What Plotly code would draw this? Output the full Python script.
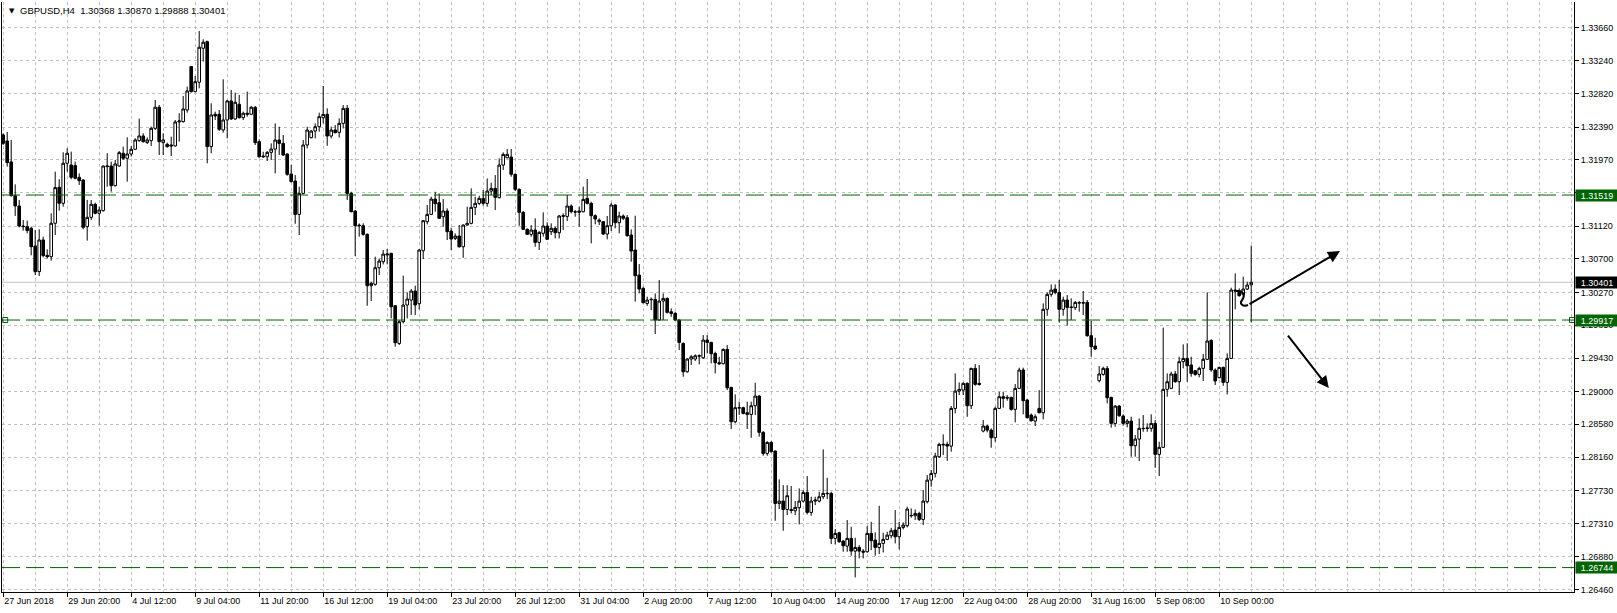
import plotly.graph_objects as go

# ---------------- data (GBPUSD H4) ----------------
open_ = [1.32289,1.32212,1.31943,1.31511,1.31379,1.31122,1.31114,1.31092,1.30866,1.30537,
1.30943,1.30746,1.30729,1.31157,1.31618,1.31413,1.31926,1.31904,1.31896,1.31746,
1.31712,1.31114,1.31233,1.31400,1.31285,1.31319,1.31883,1.31891,1.31639,1.31891,
1.32054,1.31990,1.32045,1.32105,1.32216,1.32276,1.32191,1.32216,1.32374,1.32644,
1.32191,1.32169,1.32161,1.32148,1.32455,1.32460,1.32609,1.33165,1.32844,1.32964,
1.33400,1.33485,1.32139,1.32554,1.32554,1.32353,1.32481,1.32725,1.32494,1.32682,
1.32511,1.32567,1.32554,1.32643,1.32203,1.32019,1.32010,1.32066,1.32108,1.32224,
1.32181,1.32044,1.31788,1.31698,1.31271,1.31540,1.32160,1.32254,1.32339,1.32395,
1.32510,1.32553,1.32275,1.32352,1.32322,1.32437,1.32630,1.31540,1.31314,1.31134,
1.31126,1.31015,1.30357,1.30374,1.30587,1.30664,1.30750,1.30771,1.30100,1.29617,
1.29895,1.30109,1.30173,1.30288,1.30126,1.30805,1.31177,1.31271,1.31467,1.31420,
1.31241,1.31314,1.31057,1.30963,1.30993,1.30856,1.31134,1.31156,1.31361,1.31412,
1.31476,1.31412,1.31570,1.31604,1.31485,1.31903,1.31997,1.32006,1.31784,1.31592,
1.31297,1.31079,1.31015,1.31070,1.30912,1.31028,1.31122,1.31049,1.31092,1.31036,
1.31245,1.31245,1.31378,1.31305,1.31297,1.31305,1.31476,1.31412,1.31254,1.31177,
1.31177,1.31019,1.31126,1.31391,1.31164,1.31250,1.31228,1.31006,1.30814,1.30493,
1.30322,1.30130,1.30177,1.30181,1.29917,1.30160,1.30194,1.30023,1.30002,1.29917,
1.29617,1.29254,1.29417,1.29417,1.29459,1.29433,1.29660,1.29630,1.29489,1.29370,
1.29357,1.29541,1.29053,1.28613,1.28788,1.28793,1.28729,1.28707,1.28818,1.28942,
1.28477,1.28207,1.28348,1.28237,1.27566,1.27596,1.27489,1.27489,1.27472,1.27511,
1.27596,1.27707,1.27451,1.27596,1.27596,1.27652,1.27690,1.27695,1.27118,1.27190,
1.27084,1.27019,1.27118,1.26955,1.27002,1.26955,1.26947,1.27182,1.27096,1.27002,
1.27054,1.27105,1.27152,1.27225,1.27139,1.27259,1.27280,1.27408,1.27408,1.27438,
1.27361,1.27588,1.27865,1.27951,1.28165,1.28314,1.28323,1.28301,1.28784,1.29006,
1.29019,1.29105,1.28818,1.29297,1.29105,1.28494,1.28558,1.28506,1.28408,1.28784,
1.28934,1.28925,1.28925,1.28772,1.29041,1.29276,1.28891,1.28699,1.28622,1.28784,
1.28729,1.30054,1.30246,1.30314,1.30271,1.30054,1.30173,1.30083,1.30075,1.30139,
1.30139,1.30143,1.29716,1.29584,1.29139,1.29220,1.29297,1.28925,1.28592,1.28814,
1.28686,1.28592,1.28622,1.28306,1.28391,1.28524,1.28528,1.28528,1.28592,1.28195,
1.28285,1.29028,1.29041,1.29225,1.29126,1.29383,1.29425,1.29340,1.29267,1.29220,
1.29297,1.29413,1.29656,1.29276,1.29178,1.29310,1.29118,1.29425,1.30301,1.30289,
1.30246,1.30314,1.30368]

high = [1.32310,1.32327,1.32225,1.31656,1.31456,1.31199,1.31191,1.31114,1.31071,1.31080,
1.30986,1.30823,1.31285,1.31819,1.31721,1.32067,1.32118,1.32075,1.31947,1.31797,
1.31721,1.31456,1.31456,1.31421,1.31370,1.31896,1.32054,1.31947,1.31968,1.32084,
1.32139,1.32259,1.32148,1.32246,1.32498,1.32310,1.32259,1.32396,1.32738,1.32673,
1.32310,1.32191,1.32267,1.32481,1.32567,1.32789,1.32908,1.33173,1.33045,1.33622,
1.33515,1.33498,1.32695,1.32588,1.32609,1.33002,1.32738,1.32866,1.32832,1.32802,
1.32588,1.32844,1.32661,1.32660,1.32232,1.32074,1.32083,1.32181,1.32437,1.32395,
1.32288,1.32053,1.31903,1.31775,1.31626,1.32224,1.32395,1.32352,1.32437,1.32574,
1.32916,1.32630,1.32395,1.32416,1.32502,1.32672,1.32672,1.31561,1.31326,1.31156,
1.31156,1.31027,1.30408,1.30728,1.30707,1.30814,1.30827,1.30780,1.30109,1.29916,
1.30485,1.30271,1.30314,1.30357,1.30827,1.31198,1.31391,1.31497,1.31561,1.31540,
1.31467,1.31348,1.31100,1.31027,1.31134,1.31143,1.31369,1.31604,1.31497,1.31510,
1.31583,1.31732,1.31677,1.31775,1.31989,1.32066,1.32109,1.32109,1.31797,1.31604,
1.31314,1.31092,1.31134,1.31220,1.31057,1.31297,1.31169,1.31156,1.31113,1.31263,
1.31284,1.31519,1.31399,1.31327,1.31369,1.31626,1.31724,1.31433,1.31271,1.31220,
1.31186,1.31250,1.31421,1.31399,1.31305,1.31271,1.31263,1.31079,1.31254,1.30634,
1.30344,1.30216,1.30207,1.30258,1.30429,1.30258,1.30207,1.30066,1.30023,1.29925,
1.29630,1.29425,1.29468,1.29476,1.29476,1.29724,1.29724,1.29639,1.29511,1.29446,
1.29553,1.29596,1.29062,1.28964,1.28870,1.28806,1.28870,1.28870,1.29113,1.28955,
1.28494,1.28365,1.28365,1.28246,1.27874,1.27801,1.27801,1.27789,1.27596,1.27759,
1.27737,1.27917,1.27652,1.27652,1.27716,1.28259,1.27895,1.27716,1.27237,1.27203,
1.27096,1.27353,1.27267,1.27126,1.27032,1.26981,1.27276,1.27331,1.27195,1.27536,
1.27190,1.27203,1.27254,1.27481,1.27331,1.27323,1.27524,1.27502,1.27489,1.27460,
1.27737,1.27930,1.27994,1.28216,1.28344,1.28451,1.28357,1.28814,1.29233,1.29117,
1.29117,1.29117,1.29305,1.29352,1.29340,1.28635,1.28571,1.28528,1.28806,1.28998,
1.28998,1.28955,1.28934,1.29096,1.29306,1.29306,1.28904,1.28720,1.28708,1.29019,
1.30130,1.30271,1.30374,1.30374,1.30430,1.30216,1.30237,1.30195,1.30160,1.30160,
1.30289,1.30173,1.29904,1.29690,1.29327,1.29319,1.29327,1.28934,1.28827,1.28827,
1.28708,1.28648,1.28678,1.28443,1.28656,1.28699,1.28592,1.28708,1.28635,1.28357,
1.29819,1.29233,1.29254,1.29263,1.29447,1.29605,1.29618,1.29447,1.29276,1.29319,
1.29481,1.30271,1.29669,1.29297,1.29319,1.29319,1.29490,1.30331,1.30515,1.30323,
1.30472,1.30408,1.30870]

low = [1.32161,1.31883,1.31498,1.31251,1.31105,1.31063,1.31028,1.30746,1.30494,1.30481,
1.30721,1.30704,1.30678,1.31007,1.31319,1.31370,1.31819,1.31721,1.31721,1.31648,
1.31080,1.30934,1.31199,1.31272,1.31127,1.31306,1.31627,1.31562,1.31627,1.31883,
1.31968,1.31691,1.32011,1.32097,1.32203,1.32191,1.32173,1.32148,1.32353,1.32032,
1.32032,1.32126,1.32020,1.32139,1.32203,1.32447,1.32575,1.32832,1.32836,1.32887,
1.33229,1.31926,1.32054,1.32481,1.32340,1.32319,1.32246,1.32481,1.32481,1.32498,
1.32481,1.32524,1.32545,1.32160,1.31997,1.31997,1.31955,1.31967,1.31797,1.32032,
1.32019,1.31767,1.31681,1.31151,1.31006,1.31527,1.32117,1.32245,1.32245,1.32331,
1.32437,1.32151,1.32245,1.32309,1.32254,1.32373,1.31455,1.31297,1.30737,1.30985,
1.30997,1.30100,1.30160,1.30357,1.30493,1.30630,1.30630,1.29938,1.29575,1.29596,
1.29874,1.29938,1.29980,1.29980,1.30053,1.30698,1.31143,1.31262,1.31305,1.31211,
1.31113,1.30942,1.30814,1.30942,1.30844,1.30715,1.31126,1.31143,1.31262,1.31391,
1.31382,1.31369,1.31519,1.31326,1.31476,1.31839,1.31989,1.31754,1.31570,1.31126,
1.31070,1.31006,1.30985,1.30857,1.30814,1.30985,1.30942,1.31006,1.30963,1.30963,
1.31070,1.31186,1.31284,1.31241,1.31113,1.31297,1.31399,1.30899,1.31143,1.31134,
1.31006,1.30951,1.31057,1.31092,1.31028,1.31198,1.30985,1.30664,1.30152,1.30258,
1.30130,1.30100,1.30045,1.29737,1.29912,1.29917,1.30002,1.29959,1.29904,1.29532,
1.29190,1.29241,1.29340,1.29391,1.29348,1.29417,1.29489,1.29361,1.29233,1.29340,
1.29348,1.29019,1.28519,1.28592,1.28699,1.28707,1.28519,1.28408,1.28699,1.28421,
1.28177,1.28177,1.28220,1.27344,1.27494,1.27216,1.27417,1.27438,1.27417,1.27297,
1.27579,1.27425,1.27408,1.27545,1.27579,1.27622,1.27622,1.27045,1.27041,1.27062,
1.26947,1.26947,1.26896,1.26618,1.26861,1.26861,1.26934,1.26968,1.26896,1.26917,
1.26938,1.27096,1.27118,1.27054,1.26977,1.27233,1.27259,1.27383,1.27353,1.27340,
1.27289,1.27566,1.27780,1.27900,1.28152,1.28186,1.28113,1.28229,1.28720,1.28955,
1.28955,1.28677,1.28776,1.29075,1.29075,1.28477,1.28477,1.28280,1.28357,1.28776,
1.28793,1.28883,1.28755,1.28605,1.29032,1.28708,1.28656,1.28614,1.28558,1.28720,
1.28643,1.29972,1.30216,1.30246,1.29887,1.29972,1.29844,1.29917,1.30045,1.30024,
1.29981,1.29703,1.29447,1.29532,1.29118,1.29203,1.28849,1.28537,1.28549,1.28678,
1.28562,1.28541,1.28165,1.28165,1.28109,1.28485,1.28485,1.28485,1.28024,1.27917,
1.28280,1.28934,1.29032,1.29113,1.28955,1.29297,1.29126,1.29190,1.29203,1.29182,
1.29135,1.29404,1.29254,1.29084,1.29169,1.29075,1.28964,1.29417,1.30054,1.30216,
1.30216,1.30301,1.29888]

close = [1.32182,1.31934,1.31511,1.31379,1.31122,1.31114,1.31063,1.30857,1.30537,1.30943,
1.30742,1.30729,1.31157,1.31614,1.31413,1.31926,1.32054,1.31746,1.31733,1.31703,
1.31105,1.31233,1.31400,1.31285,1.31327,1.31891,1.31891,1.31639,1.31917,1.32062,
1.31990,1.32045,1.32105,1.32225,1.32276,1.32203,1.32225,1.32374,1.32644,1.32203,
1.32225,1.32139,1.32148,1.32455,1.32468,1.32622,1.32853,1.32844,1.32972,1.33413,
1.33477,1.32139,1.32545,1.32532,1.32361,1.32481,1.32725,1.32494,1.32708,1.32511,
1.32567,1.32554,1.32644,1.32190,1.32010,1.32010,1.32066,1.32108,1.32224,1.32181,
1.32032,1.31784,1.31690,1.31271,1.31540,1.32160,1.32352,1.32339,1.32395,1.32523,
1.32553,1.32275,1.32352,1.32318,1.32437,1.32630,1.31540,1.31305,1.31126,1.31126,
1.31015,1.30357,1.30386,1.30587,1.30673,1.30762,1.30762,1.30087,1.29626,1.29895,
1.30109,1.30186,1.30288,1.30109,1.30814,1.31190,1.31271,1.31467,1.31408,1.31220,
1.31314,1.31049,1.30955,1.30993,1.30856,1.31134,1.31156,1.31361,1.31412,1.31476,
1.31412,1.31570,1.31604,1.31489,1.31903,1.32040,1.32040,1.31784,1.31592,1.31297,
1.31079,1.31015,1.31070,1.30912,1.31040,1.31122,1.30951,1.31092,1.31036,1.31250,
1.31254,1.31378,1.31305,1.31301,1.31314,1.31463,1.31412,1.31254,1.31211,1.31198,
1.31019,1.31126,1.31391,1.31164,1.31250,1.31220,1.30998,1.30801,1.30485,1.30314,
1.30139,1.30173,1.30181,1.29917,1.30160,1.30194,1.30015,1.30002,1.29917,1.29630,
1.29254,1.29417,1.29446,1.29459,1.29455,1.29660,1.29630,1.29485,1.29370,1.29357,
1.29541,1.29049,1.28613,1.28793,1.28793,1.28720,1.28707,1.28818,1.28942,1.28477,
1.28207,1.28348,1.28229,1.27566,1.27596,1.27489,1.27665,1.27477,1.27515,1.27596,
1.27707,1.27451,1.27596,1.27609,1.27652,1.27695,1.27695,1.27118,1.27182,1.27075,
1.27024,1.27118,1.26955,1.27002,1.26955,1.26942,1.27182,1.27088,1.27002,1.27054,
1.27105,1.27160,1.27216,1.27139,1.27259,1.27289,1.27494,1.27412,1.27438,1.27361,
1.27596,1.27865,1.27951,1.28173,1.28323,1.28323,1.28301,1.28784,1.29006,1.29028,
1.29105,1.28818,1.29297,1.29092,1.29092,1.28558,1.28506,1.28408,1.28784,1.28934,
1.28913,1.28917,1.28772,1.29041,1.29276,1.28883,1.28665,1.28626,1.28678,1.28729,
1.30054,1.30246,1.30301,1.30271,1.30054,1.30173,1.30079,1.30079,1.30143,1.30135,
1.30135,1.29716,1.29575,1.29545,1.29225,1.29297,1.28921,1.28592,1.28814,1.28690,
1.28592,1.28622,1.28306,1.28391,1.28528,1.28528,1.28532,1.28592,1.28195,1.28285,
1.29028,1.29126,1.29225,1.29126,1.29383,1.29425,1.29331,1.29233,1.29220,1.29297,
1.29413,1.29648,1.29276,1.29135,1.29310,1.29118,1.29425,1.30301,1.30289,1.30229,
1.30314,1.30365,1.30401]

tick_idx = [0, 16, 32, 48, 64, 80, 96, 112, 128, 144, 160, 176, 192, 208, 224, 240, 256, 272, 288, 304]
tick_text = ["27 Jun 2018", "29 Jun 20:00", "4 Jul 12:00", "9 Jul 04:00", "11 Jul 20:00",
             "16 Jul 12:00", "19 Jul 04:00", "23 Jul 20:00", "26 Jul 12:00", "31 Jul 04:00",
             "2 Aug 20:00", "7 Aug 12:00", "10 Aug 04:00", "14 Aug 20:00", "17 Aug 12:00",
             "22 Aug 04:00", "28 Aug 20:00", "31 Aug 16:00", "5 Sep 08:00", "10 Sep 00:00"]
price_ticks = [1.33660, 1.33240, 1.32820, 1.32390, 1.31970, 1.31550, 1.31120, 1.30700,
               1.30270, 1.29850, 1.29430, 1.29000, 1.28580, 1.28160, 1.27730, 1.27310,
               1.26880, 1.26460]
levels = [1.31519, 1.29917, 1.26744]
bid = 1.30401
symbol = "GBPUSD,H4"

# ---------------- figure ----------------
GREEN = "#006400"
GRID = "#c0c0c0"
FONT = "Liberation Sans"
x = list(range(len(open_)))
x_range = [-0.3, 392.7]
y_range = [1.26431, 1.33993]

fig = go.Figure()
fig.add_trace(go.Candlestick(
    x=x, open=open_, high=high, low=low, close=close,
    increasing=dict(line=dict(color="black", width=1), fillcolor="white"),
    decreasing=dict(line=dict(color="black", width=1), fillcolor="black"),
    whiskerwidth=0, hoverinfo="skip", showlegend=False))

# level lines
shapes = []
shapes.append(dict(type="line", xref="paper", x0=0, x1=1, yref="y", y0=bid, y1=bid,
                   line=dict(color=GRID, width=1), layer="below"))
for lv in levels:
    shapes.append(dict(type="line", xref="paper", x0=0, x1=1, yref="y", y0=lv, y1=lv,
                       line=dict(color=GREEN, width=1, dash="18px,6px"), layer="above"))

# hand-drawn squiggle before the upper arrow
shapes.append(dict(type="path", xref="x", yref="y",
                   path=("M 308.2,1.30288 C 309.95,1.30301 310.7,1.30237 309.7,1.30173 "
                         "C 308.95,1.30122 309.95,1.30083 311.2,1.30109"),
                   line=dict(color="black", width=2)))

# end-point squares of the 1.29917 trend line
fig.add_trace(go.Scatter(x=[x_range[0] + 0.8, x_range[1] - 0.5], y=[levels[1], levels[1]],
                         mode="markers", marker=dict(symbol="square-open", size=5,
                         color=GREEN, line=dict(width=1, color=GREEN)),
                         hoverinfo="skip", showlegend=False, cliponaxis=False))

annotations = []
# price boxes on the right axis
for val, bg in [(levels[0], GREEN), (bid, "black"), (levels[1], GREEN), (levels[2], GREEN)]:
    annotations.append(dict(xref="paper", x=1, xanchor="left", xshift=1,
                            yref="y", y=val, yanchor="middle",
                            text=f"{val:.5f}", showarrow=False,
                            font=dict(family=FONT, size=9, color="white"),
                            bgcolor=bg, width=42, height=11, borderpad=0, align="center"))

# title line
annotations.append(dict(xref="paper", yref="paper", x=5 / 1572, y=1 - 9 / 590,
                        xanchor="left", yanchor="middle", text="▼", showarrow=False,
                        font=dict(family="DejaVu Sans", size=7, color="black")))
annotations.append(dict(xref="paper", yref="paper", x=16 / 1572, y=1 - 9 / 590,
                        xanchor="left", yanchor="middle",
                        text=f"{symbol}\u00a0\u00a0{open_[-1]:.5f} {high[-1]:.5f} {low[-1]:.5f} {close[-1]:.5f}",
                        showarrow=False, font=dict(family=FONT, size=9.5, color="black")))

# arrows
annotations.append(dict(x=334.2, y=1.30801, ax=311.2, ay=1.30109, xref="x", yref="y",
                        axref="x", ayref="y", text="", showarrow=True, arrowhead=2,
                        arrowsize=1.2, arrowwidth=2, arrowcolor="black"))
annotations.append(dict(x=331.4, y=1.29045, ax=320.9, ay=1.29737, xref="x", yref="y",
                        axref="x", ayref="y", text="", showarrow=True, arrowhead=2,
                        arrowsize=1.2, arrowwidth=2, arrowcolor="black"))

fig.update_layout(
    width=1617, height=613,
    margin=dict(l=2, r=43, t=2, b=21, autoexpand=False),
    paper_bgcolor="white", plot_bgcolor="white",
    font=dict(family=FONT, size=9, color="black"),
    showlegend=False, shapes=shapes, annotations=annotations,
    hovermode=False, boxgap=0.35, boxgroupgap=0,
)
fig.update_xaxes(
    range=x_range, rangeslider_visible=False,
    tickmode="array", tickvals=tick_idx, ticktext=tick_text,
    ticks="outside", ticklen=4, tickcolor="black", tickwidth=1,
    ticklabelposition="outside right",
    showgrid=True, gridcolor=GRID, griddash="3px,3px", gridwidth=1,
    minor=dict(tickmode="linear", tick0=0, dtick=8, showgrid=True,
               gridcolor=GRID, griddash="3px,3px", ticks=""),
    showline=True, linecolor="black", linewidth=1, zeroline=False,
)
fig.update_yaxes(
    side="right", range=y_range,
    tickmode="array", tickvals=price_ticks, tickformat=".5f",
    ticks="outside", ticklen=4, tickcolor="black", tickwidth=1,
    showgrid=True, gridcolor=GRID, griddash="3px,3px", gridwidth=1,
    showline=True, mirror=True, linecolor="black", linewidth=1, zeroline=False,
)

fig.write_html("out.html", config={"displayModeBar": False, "staticPlot": True},
               post_script="document.body.style.margin='0';document.body.style.padding='0';")
